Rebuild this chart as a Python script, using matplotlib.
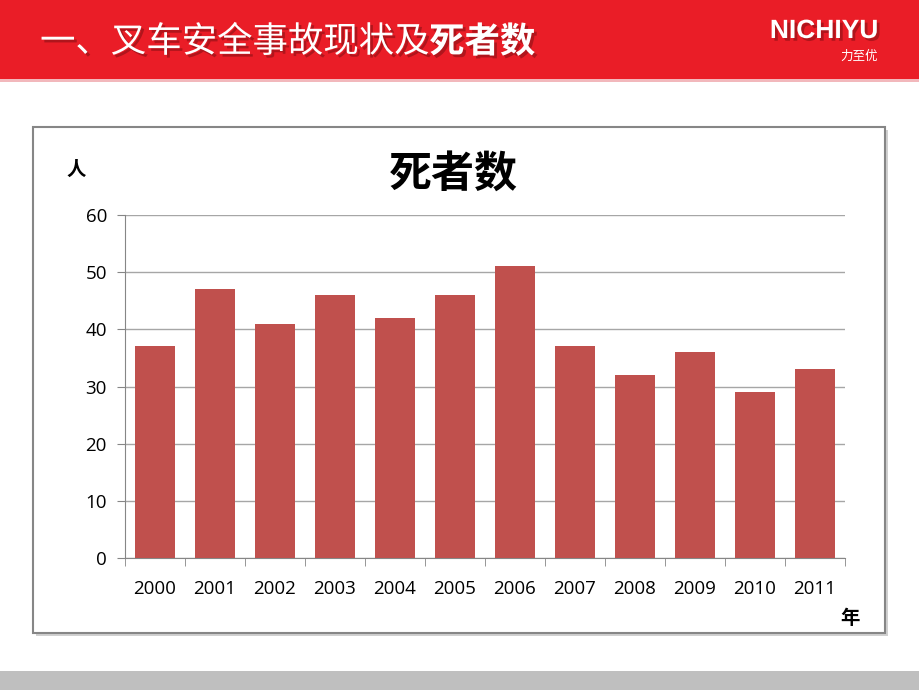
import matplotlib
matplotlib.use("Agg")
import matplotlib.pyplot as plt
from matplotlib.patches import Rectangle
import matplotlib.patheffects as pe
import numpy as np

plt.rcParams['font.family'] = ['Noto Sans CJK SC', 'DejaVu Sans']

years = ['2000', '2001', '2002', '2003', '2004', '2005', '2006', '2007', '2008', '2009', '2010', '2011']
deaths = [37, 47, 41, 46, 42, 46, 51, 37, 32, 36, 29, 33]
yticks = [0, 10, 20, 30, 40, 50, 60]

W, H = 920, 690
fig = plt.figure(figsize=(W / 100, H / 100), dpi=100)

def fx(x):
    return x / W

def fy(y):
    return 1 - y / H

# header band
fig.patches.append(Rectangle((0, fy(79)), 1, 79 / H, transform=fig.transFigure,
                             facecolor='#EA1D27', edgecolor='none', zorder=0))
fig.patches.append(Rectangle((0, fy(82)), 1, 3 / H, transform=fig.transFigure,
                             facecolor='#F2B8BC', edgecolor='none', zorder=0))
# footer band
fig.patches.append(Rectangle((0, 0), 1, 19 / H, transform=fig.transFigure,
                             facecolor='#BFBFBF', edgecolor='none', zorder=0))
# chart border with shadow
fig.patches.append(Rectangle((fx(36), fy(636)), (885 - 33) / W, (633 - 127) / H,
                             transform=fig.transFigure, facecolor='#D0D0D0',
                             edgecolor='none', zorder=0))
fig.patches.append(Rectangle((fx(33), fy(633)), (885 - 33) / W, (633 - 127) / H,
                             transform=fig.transFigure, facecolor='white',
                             edgecolor='#868686', linewidth=1.5, zorder=0))

shadow = [pe.withSimplePatchShadow(offset=(2, -2), shadow_rgbFace='#8A1015', alpha=0.6)]
t1 = fig.text(fx(40), fy(42), '一、叉车安全事故现状及', color='white', fontsize=25.5,
              va='center', ha='left', path_effects=shadow)
fig.canvas.draw()
bb = t1.get_window_extent()
fig.text(bb.x1 / W, fy(42), '死者数', color='white', fontsize=25.5, fontweight='bold',
         va='center', ha='left', path_effects=shadow)
fig.text(fx(878), fy(31), 'NICHIYU', color='white', fontsize=19, fontweight='bold',
         family=['Liberation Sans Narrow', 'Liberation Sans', 'DejaVu Sans'],
         va='center', ha='right', path_effects=shadow)
fig.text(fx(878), fy(56), '力至优', color='white', fontsize=9,
         va='center', ha='right')

ax = fig.add_axes([fx(125), fy(558), (845 - 125) / W, (558 - 215) / H])
ax.set_zorder(5)
x = np.arange(len(years))
ax.bar(x, deaths, width=0.67, color='#C0504D', zorder=3)
ax.set_xlim(-0.5, len(years) - 0.5)
ax.set_ylim(0, 60)
ax.set_yticks(yticks)
ax.set_yticklabels([str(v) for v in yticks], family=['Open Sans', 'DejaVu Sans'], fontsize=13.5)
ax.set_xticks(x)
ax.set_xticklabels(years, family=['Open Sans', 'DejaVu Sans'], fontsize=13.5)
ax.set_xticks(np.arange(-0.5, len(years), 1), minor=True)
ax.tick_params(axis='x', which='major', length=0, pad=16)
ax.tick_params(axis='x', which='minor', length=6, color='#868686', direction='out')
ax.tick_params(axis='y', length=6, color='#868686', direction='out', pad=7)
ax.grid(axis='y', color='#A6A6A6', linewidth=1, zorder=0)
ax.set_axisbelow(True)
for s in ['top', 'right']:
    ax.spines[s].set_visible(False)
ax.spines['left'].set_color('#868686')
ax.spines['bottom'].set_color('#868686')

fig.text(fx(453), fy(174), '死者数', fontsize=31, fontweight='bold', ha='center', va='center')
fig.text(fx(76), fy(170), '人', fontsize=14, fontweight='bold', ha='center', va='center')
fig.text(fx(850), fy(618), '年', fontsize=14, fontweight='bold', ha='center', va='center')

fig.savefig('out.png', dpi=100)
